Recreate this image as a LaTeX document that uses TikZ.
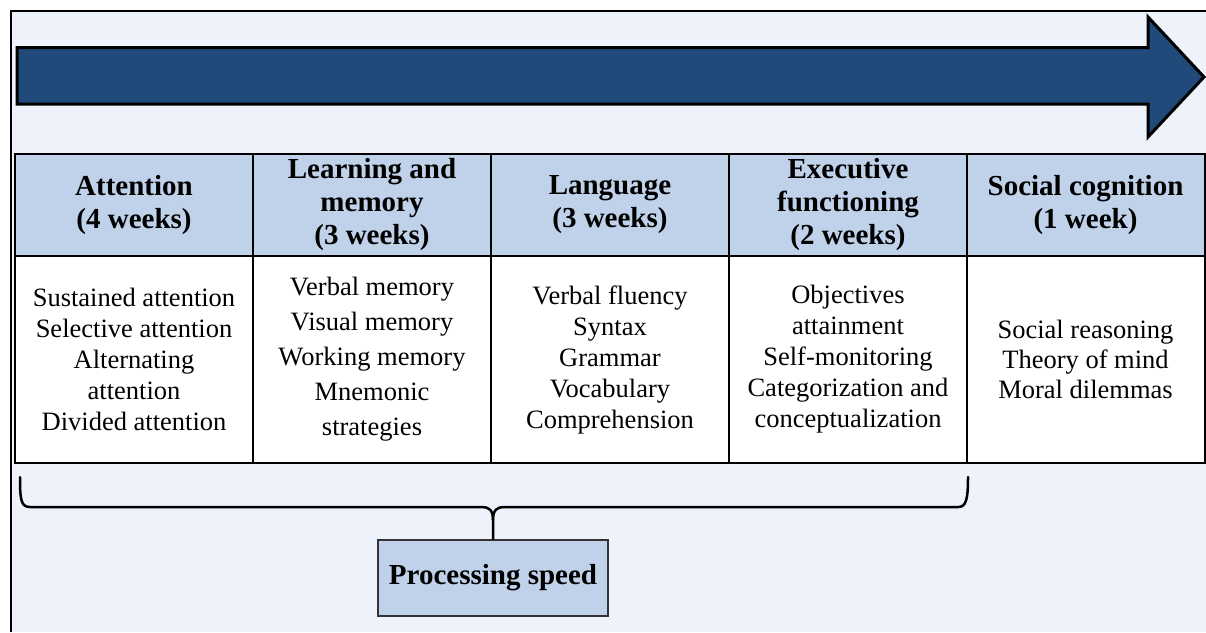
\documentclass[tikz,border=0pt]{standalone}
\usepackage{fontspec}
\setmainfont{Liberation Serif}
\definecolor{bgblue}{HTML}{EEF2FA}
\definecolor{hdblue}{HTML}{C0D2EA}
\definecolor{arrowblue}{HTML}{1F4A7A}
\tikzset{
  cell/.style={draw=black, line width=2pt, minimum width=238pt, inner sep=0pt, outer sep=0pt, align=center},
  headcell/.style={cell, fill=hdblue, minimum height=102pt, font=\fontsize{29}{33}\selectfont\bfseries},
  bodycell/.style={cell, fill=white, minimum height=207pt, font=\fontsize{26.5}{31}\selectfont},
  bracepath/.style={draw=black, line width=2.5pt, line cap=round},
  psbox/.style={draw=black!80, line width=2pt, fill=hdblue, minimum width=230pt, minimum height=76pt, inner sep=0pt, font=\fontsize{29}{33}\selectfont\bfseries},
  bigarrow/.style={draw=black, line width=3pt, fill=arrowblue, line join=miter}
}
\begin{document}
\begin{tikzpicture}[x=1pt,y=-1pt]
\useasboundingbox (0,0) rectangle (1206,632);
% frame
\fill[white] (0,0) rectangle (1206,632);
\fill[bgblue] (10.5,10.5) rectangle (1206,632);
\draw[black, line width=2pt] (10.5,632) -- (10.5,10.5) -- (1206,10.5);
% arrow
\draw[bigarrow] (17,47.5) -- (1148,47.5) -- (1148,17) -- (1204,77) -- (1148,137) -- (1148,104) -- (17,104) -- cycle;
% header row
\node[headcell] (h1) at (134,205) {Attention\\(4 weeks)};
\node[headcell] (h2) at (372,205) {Learning and\\memory\\(3 weeks)};
\node[headcell] (h3) at (610,205) {Language\\(3 weeks)};
\node[headcell] (h4) at (848,205) {Executive\\functioning\\(2 weeks)};
\node[headcell] (h5) at (1085.5,205) {Social cognition\\(1 week)};
% body row
\node[bodycell] (b1) at (134,359.5) {Sustained attention\\Selective attention\\Alternating\\attention\\Divided attention};
\node[bodycell, font=\fontsize{26.5}{35}\selectfont] (b2) at (372,359.5) {Verbal memory\\Visual memory\\Working memory\\Mnemonic\\strategies};
\node[bodycell] (b3) at (610,359.5) {Verbal fluency\\Syntax\\Grammar\\Vocabulary\\Comprehension};
\node[bodycell] (b4) at (848,359.5) {Objectives\\attainment\\Self-monitoring\\Categorization and\\conceptualization};
\node[bodycell, font=\fontsize{26.5}{30}\selectfont] (b5) at (1085.5,359.5) {Social reasoning\\Theory of mind\\Moral dilemmas};
% processing speed
\node[psbox] (ps) at (493,578) {Processing speed};
% brace
\coordinate (bl) at (20,477);
\coordinate (br) at (968,477);
\draw[bracepath] (bl) .. controls (20,500) and (21,507) .. (30,507) -- (482,507)
  .. controls (489,507) and (493,510) .. (493,520) -- (ps.north);
\draw[bracepath] (br) .. controls (968,500) and (966,507) .. (958,507) -- (504,507)
  .. controls (497,507) and (493,510) .. (493,520);
\end{tikzpicture}
\end{document}
